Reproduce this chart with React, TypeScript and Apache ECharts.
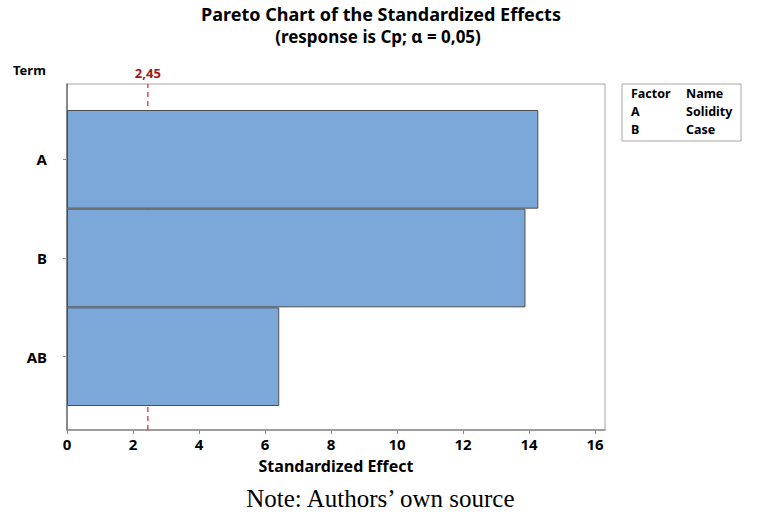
import React, { useEffect, useRef } from "react";
import * as echarts from "echarts";

const terms = ["A", "B", "AB"];
const effects = [14.28, 13.89, 6.43];
const refValue = 2.45;
const refLabel = "2,45";
const xTicks = [0, 2, 4, 6, 8, 10, 12, 14, 16];
const xMax = 16.3;
const factorCodes = ["A", "B"];
const factorNames = ["Solidity", "Case"];

const FONT = "'Noto Sans', 'Open Sans', sans-serif";

export default function App() {
  const ref = useRef<HTMLDivElement>(null);
  useEffect(() => {
    document.body.style.margin = "0";
    if (!ref.current) return;
    const chart = echarts.init(ref.current, null, { renderer: "svg" });
    const L = 67, R = 764 - 605;
    const legendX = 622, legendY = 84;
    const legendFont = `bold 12.5px ${FONT}`;
    const legendTexts: any[] = [];
    legendTexts.push({ type: "text", left: legendX + 9, top: legendY + 3, style: { text: "Factor", font: legendFont, fill: "#000" } });
    legendTexts.push({ type: "text", left: legendX + 64, top: legendY + 3, style: { text: "Name", font: legendFont, fill: "#000" } });
    factorCodes.forEach((c, i) => {
      legendTexts.push({ type: "text", left: legendX + 9, top: legendY + 21 + i * 17.5, style: { text: c, font: legendFont, fill: "#000" } });
      legendTexts.push({ type: "text", left: legendX + 64, top: legendY + 21 + i * 17.5, style: { text: factorNames[i], font: legendFont, fill: "#000" } });
    });
    chart.setOption({
      animation: false,
      title: [
        { text: "Pareto Chart of the Standardized Effects", left: 376, textAlign: "center", top: 0, textStyle: { fontFamily: FONT, fontSize: 18, fontWeight: "bold", color: "#000" } },
        { text: "(response is Cp; α = 0,05)", left: 373, textAlign: "center", top: 23, textStyle: { fontFamily: FONT, fontSize: 17, fontWeight: "bold", color: "#000" } },
      ],
      grid: [
        { left: L, right: R, top: 84, bottom: 91, show: true, borderColor: "#a6a6a6", borderWidth: 1, containLabel: false },
        { left: L, right: R, top: 110, bottom: 115, containLabel: false },
      ],
      xAxis: [
        {
          type: "value", gridIndex: 0, min: 0, max: xMax, interval: 2,
          axisLine: { show: true, lineStyle: { color: "#8c8c8c", width: 1.5 } },
          axisTick: { show: true, length: 4, customValues: xTicks, lineStyle: { color: "#8c8c8c" } },
          axisLabel: { customValues: xTicks, margin: 6, fontFamily: FONT, fontSize: 15, fontWeight: "bold", color: "#000" },
          splitLine: { show: false },
          name: "Standardized Effect", nameLocation: "middle", nameGap: 28,
          nameTextStyle: { fontFamily: FONT, fontSize: 16, fontWeight: "bold", color: "#000" },
        },
        { type: "value", gridIndex: 1, min: 0, max: xMax, show: false, splitLine: { show: false } },
      ],
      yAxis: [
        {
          type: "value", gridIndex: 0, min: 0, max: 1,
          axisLine: { show: true, lineStyle: { color: "#6e6e6e", width: 1.5 } },
          axisTick: { show: false }, axisLabel: { show: false }, splitLine: { show: false },
          name: "Term", nameLocation: "end", nameGap: 0,
          nameTextStyle: { fontFamily: FONT, fontSize: 13, fontWeight: "bold", color: "#000", align: "left", padding: [0, 0, 8, -54] },
        },
        {
          type: "category", gridIndex: 1, data: terms, inverse: true,
          axisLine: { show: false },
          axisTick: { show: true, length: 4, alignWithLabel: true, lineStyle: { color: "#8c8c8c" } },
          axisLabel: { margin: 20, fontFamily: FONT, fontSize: 15, fontWeight: "bold", color: "#000" },
          splitLine: { show: false },
        },
      ],
      series: [
        {
          type: "line", xAxisIndex: 0, yAxisIndex: 0, z: 1,
          data: [[refValue, 0], [refValue, 1]],
          symbol: "none", silent: true,
          lineStyle: { color: "#e02020", type: [5, 4], width: 1.2 },
          label: { show: false },
          markPoint: {
            symbol: "circle", symbolSize: 0,
            data: [{ coord: [refValue, 1] }],
            label: { show: true, position: "top", distance: 5, formatter: refLabel, fontFamily: FONT, fontSize: 13, fontWeight: "bold", color: "#a31515" },
          },
        },
        {
          type: "bar", xAxisIndex: 1, yAxisIndex: 1, z: 3,
          data: effects, barCategoryGap: "0%",
          itemStyle: { color: "#7ba7d9", borderColor: "#4d4d4d", borderWidth: 1 },
        },
      ],
      graphic: [
        { type: "rect", shape: { x: legendX, y: legendY, width: 119, height: 57 }, style: { fill: "none", stroke: "#a6a6a6", lineWidth: 1 } },
        ...legendTexts,
        { type: "text", left: "center", top: 486, style: { text: "Note: Authors’ own source", font: "25px 'Liberation Serif', 'Times New Roman', serif", fill: "#000" } },
      ],
    });
    return () => chart.dispose();
  }, []);
  return <div ref={ref} style={{ width: 764, height: 521 }} />;
}
